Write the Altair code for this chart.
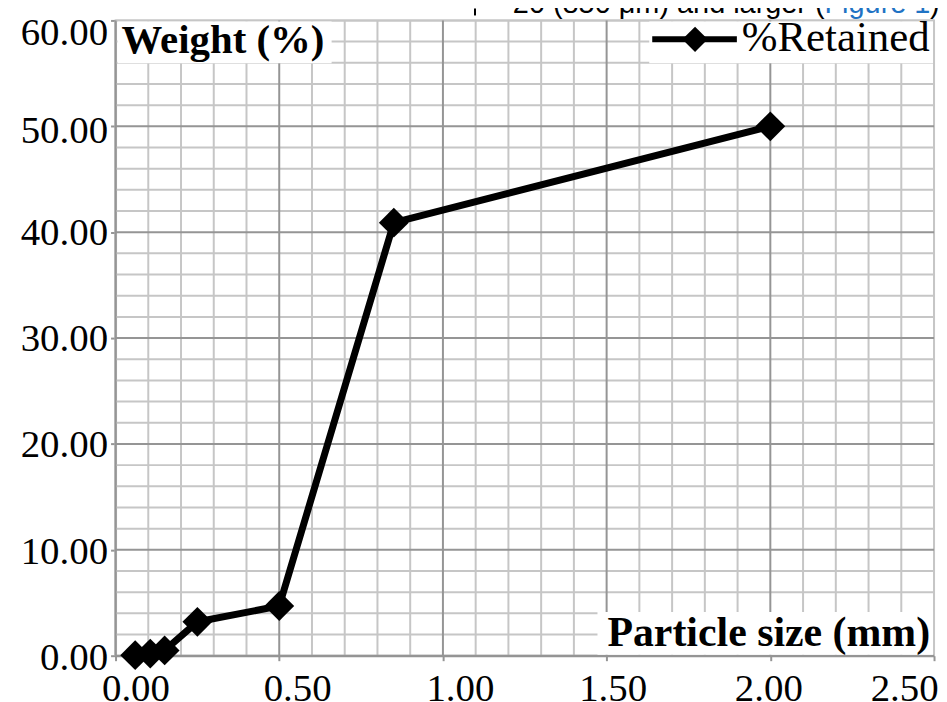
import altair as alt
import pandas as pd

# ---- data ----
size_mm = [0.06, 0.106, 0.15, 0.25, 0.5, 0.85, 2.0]
retained_pct = [0.05, 0.2, 0.5, 3.2, 4.7, 40.9, 50.0]

x_minor_grid = [0.0, 0.1, 0.2, 0.3, 0.4, 0.6, 0.7, 0.8, 0.9, 1.1, 1.2, 1.3,
                1.4, 1.6, 1.7, 1.8, 1.9, 2.1, 2.2, 2.3, 2.4, 2.5]
x_major_grid = [0.0, 0.5, 1.0, 1.5, 2.0]
x_major = [0.0, 0.5, 1.0, 1.5, 2.0, 2.5]
x_label_shift = [20, 18, 17, 6, -2, -30]

y_minor_grid = [2, 4, 6, 8, 12, 14, 16, 18, 22, 24, 26, 28, 32, 34, 36, 38,
                42, 44, 46, 48, 52, 54, 56, 58, 60]
y_major_grid = [0, 10, 20, 30, 40, 50]
y_major = [0, 10, 20, 30, 40, 50, 60]
y_label_shift = [1.5, 1.5, 1, 0.5, 0.5, 4.5, 12.5]

y_title = ["Weight (%)"]
x_title = ["Particle size (mm)"]
series_name = ["%Retained"]
header_black = ["20 (850 μm) and larger ("]
header_blue = ["Figure 1"]
header_close = [")"]

df = pd.DataFrame({"size": size_mm, "pct": retained_pct})

SERIF = "Liberation Serif"
MAJOR = "#959595"
MINOR = "#c6c6c6"


def at(v):
    return f"abs(datum.value - {v}) < 0.000001"


x_axis = alt.Axis(
    values=x_major,
    title=None,
    grid=False,
    format=".2f",
    labelFont=SERIF,
    labelFontSize=39,
    labelColor="black",
    labelPadding=9,
    labelOverlap=False,
    labelFlush=False,
    labelOffset={"condition": [{"test": at(v), "value": s} for v, s in zip(x_major, x_label_shift)],
                 "value": 0},
    tickSize=5,
    tickWidth=2,
    tickColor=MAJOR,
    domainColor=MAJOR,
    domainWidth=2,
)

y_axis = alt.Axis(
    values=y_major,
    title=None,
    grid=False,
    format=".2f",
    labelFont=SERIF,
    labelFontSize=39,
    labelColor="black",
    labelPadding=3,
    labelOverlap=False,
    labelFlush=False,
    labelOffset={"condition": [{"test": at(v), "value": s} for v, s in zip(y_major, y_label_shift)],
                 "value": 0},
    tickSize=5,
    tickWidth=2,
    tickColor=MAJOR,
    domainColor=MAJOR,
    domainWidth=2,
)

xscale = alt.Scale(domain=[0, 2.5], nice=False, zero=True)
yscale = alt.Scale(domain=[0, 60], nice=False, zero=True)

one = pd.DataFrame({"a": [0]})

# grid lines drawn from the grid lists
gx_minor = alt.Chart(pd.DataFrame({"v": x_minor_grid})).mark_rule(
    color=MINOR, strokeWidth=2).encode(x=alt.X("v:Q", scale=xscale, axis=x_axis))
gy_minor = alt.Chart(pd.DataFrame({"v": y_minor_grid})).mark_rule(
    color=MINOR, strokeWidth=2).encode(y=alt.Y("v:Q", scale=yscale, axis=y_axis))
gx_major = alt.Chart(pd.DataFrame({"v": x_major_grid})).mark_rule(
    color=MAJOR, strokeWidth=2).encode(x=alt.X("v:Q", scale=xscale, axis=x_axis))
gy_major = alt.Chart(pd.DataFrame({"v": y_major_grid})).mark_rule(
    color=MAJOR, strokeWidth=2).encode(y=alt.Y("v:Q", scale=yscale, axis=y_axis))

line = alt.Chart(df).mark_line(color="black", strokeWidth=7).encode(
    x=alt.X("size:Q", scale=xscale, axis=x_axis),
    y=alt.Y("pct:Q", scale=yscale, axis=y_axis),
)
points = alt.Chart(df).mark_point(shape="diamond", filled=True, size=900,
                                  color="black", opacity=1).encode(
    x=alt.X("size:Q", scale=xscale, axis=x_axis),
    y=alt.Y("pct:Q", scale=yscale, axis=y_axis),
)

box_y = alt.Chart(one).mark_rect(color="white").encode(
    x=alt.value(2), x2=alt.value(217), y=alt.value(1), y2=alt.value(43))
box_leg = alt.Chart(one).mark_rect(color="white").encode(
    x=alt.value(536), x2=alt.value(821), y=alt.value(1), y2=alt.value(43))
box_x = alt.Chart(one).mark_rect(color="white").encode(
    x=alt.value(484), x2=alt.value(821), y=alt.value(594), y2=alt.value(637))

t_y = alt.Chart(pd.DataFrame({"t": y_title})).mark_text(
    align="left", baseline="alphabetic", font=SERIF, fontSize=41,
    fontWeight="bold", color="black").encode(
    x=alt.value(6), y=alt.value(33), text="t:N")
t_x = alt.Chart(pd.DataFrame({"t": x_title})).mark_text(
    align="left", baseline="alphabetic", font=SERIF, fontSize=42,
    fontWeight="bold", color="black").encode(
    x=alt.value(494), y=alt.value(628), text="t:N")

leg_line = alt.Chart(one).mark_rule(color="black", strokeWidth=6).encode(
    x=alt.value(539), x2=alt.value(624), y=alt.value(19))
leg_pt = alt.Chart(one).mark_point(shape="diamond", filled=True, size=650,
                                   color="black", opacity=1).encode(
    x=alt.value(582), y=alt.value(19))
leg_txt = alt.Chart(pd.DataFrame({"t": series_name})).mark_text(
    align="left", baseline="alphabetic", font=SERIF, fontSize=43,
    color="black").encode(x=alt.value(629), y=alt.value(31), text="t:N")

hdr1 = alt.Chart(pd.DataFrame({"t": header_black})).mark_text(
    align="left", baseline="alphabetic", font="Liberation Sans", fontSize=29,
    color="black").encode(x=alt.value(399), y=alt.value(-7), text="t:N")
hdr2 = alt.Chart(pd.DataFrame({"t": header_blue})).mark_text(
    align="left", baseline="alphabetic", font="Liberation Sans", fontSize=29,
    color="#1f73c4").encode(x=alt.value(712), y=alt.value(-7), text="t:N")
hdr3 = alt.Chart(pd.DataFrame({"t": header_close})).mark_text(
    align="left", baseline="alphabetic", font="Liberation Sans", fontSize=29,
    color="black").encode(x=alt.value(818), y=alt.value(-7), text="t:N")
hdr_bar = alt.Chart(one).mark_rule(color="black", strokeWidth=2).encode(
    x=alt.value(361), y=alt.value(-12), y2=alt.value(-5))

chart = alt.layer(
    gx_minor, gy_minor, gx_major, gy_major,
    box_y, box_leg, box_x, line, points,
    t_y, t_x, leg_line, leg_pt, leg_txt, hdr1, hdr2, hdr3, hdr_bar,
).properties(
    width=822,
    height=638,
    autosize=alt.AutoSizeParams(type="none"),
    padding={"left": 108, "top": 11, "right": 5, "bottom": 44},
    background="white",
).configure_view(stroke=MINOR, strokeWidth=2)

chart.save("out.html", embed_options={"renderer": "svg", "actions": False})
